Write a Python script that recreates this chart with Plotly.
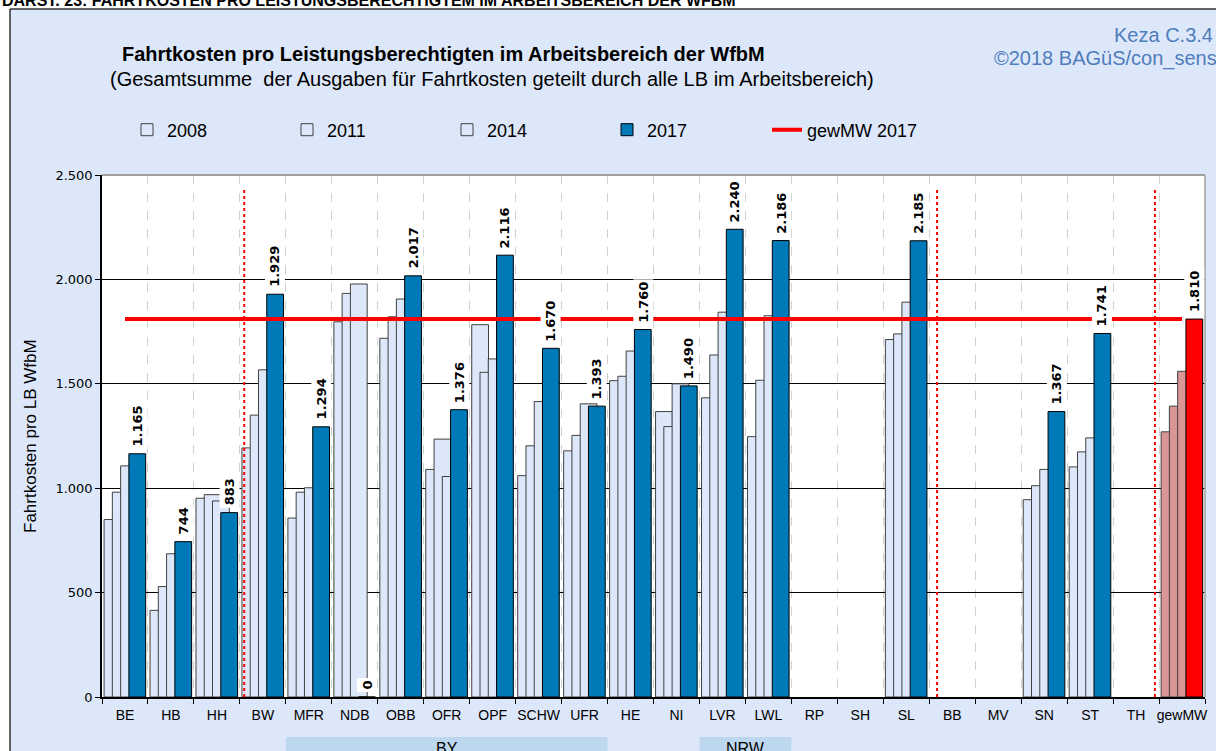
import plotly.graph_objects as go

# ---------------- data ----------------
categories = ["BE", "HB", "HH", "BW", "MFR", "NDB", "OBB", "OFR", "OPF", "SCHW", "UFR", "HE",
              "NI", "LVR", "LWL", "RP", "SH", "SL", "BB", "MV", "SN", "ST", "TH", "gewMW"]
years = ["2008", "2011", "2014", "2017"]
v2008 = [850, 415, 952, 1193, 857, 1797, 1718, 1090, 1783, 1060, 1179, 1515,
         1367, 1433, 1247, None, None, 1712, None, None, 945, 1102, None, 1270]
v2011 = [981, 529, 969, 1350, 981, 1933, 1821, 1235, 1555, 1203, 1253, 1536,
         1295, 1638, 1517, None, None, 1739, None, None, 1012, 1174, None, 1393]
v2014 = [1107, 686, 939, 1567, 1002, 1978, 1906, 1056, 1619, 1415, 1404, 1657,
         1500, 1843, 1826, None, None, 1891, None, None, 1090, 1241, None, 1560]
v2017 = [1165, 744, 883, 1929, 1294, 0, 2017, 1376, 2116, 1670, 1393, 1760,
         1490, 2240, 2186, None, None, 2185, None, None, 1367, 1741, None, 1810]
avg_label = "gewMW 2017"
avg_2017 = v2017[categories.index("gewMW")]
region_labels = ["BY", "NRW"]
region_spans = [("MFR", "UFR"), ("LVR", "LWL")]
separator_after = ["HH", "SL", "TH"]

title = "Fahrtkosten pro Leistungsberechtigten im Arbeitsbereich der WfbM"
subtitle = "(Gesamtsumme  der Ausgaben für Fahrtkosten geteilt durch alle LB im Arbeitsbereich)"
header = "DARST. 23: FAHRTKOSTEN PRO LEISTUNGSBERECHTIGTEM IM ARBEITSBEREICH DER WFBM"
ytitle = "Fahrtkosten pro LB WfbM"
source1 = "Keza C.3.4"
source2 = "©2018 BAGüS/con_sens"

# ---------------- layout constants ----------------
W, H = 1216, 751
L, R, T, B = 102, 11, 175, 54
PW, PH = W - L - R, H - T - B


def px(x):
    return (x - L) / PW


def py(y):
    return (H - B - y) / PH


light = "#DDE7FA"
blue = "#0079B8"
rose = "#D99694"
red = "#FF0000"
bg = "#DDE7FA"

bar_w = 0.365
offsets = [-0.455, -0.275, -0.095, 0.085]
series = [v2008, v2011, v2014, v2017]

fig = go.Figure()
for k, (yr, vals) in enumerate(zip(years, series)):
    if yr == "2017":
        colors = [red if c == "gewMW" else blue for c in categories]
        lc = "#000000"
    else:
        colors = [rose if c == "gewMW" else light for c in categories]
        lc = "#404040"
    fig.add_trace(go.Bar(
        x=categories, y=vals, name=yr,
        offset=offsets[k], width=bar_w,
        marker=dict(color=colors, line=dict(color=lc, width=1)),
        showlegend=True,
    ))

fig.add_trace(go.Scatter(
    x=categories, y=[avg_2017] * len(categories), name=avg_label,
    mode="lines", line=dict(color=red, width=4),
))

# data labels on 2017 bars
annotations = []
for i, (c, v) in enumerate(zip(categories, v2017)):
    if v is None:
        continue
    annotations.append(dict(
        x=i + offsets[3] + bar_w / 2, y=v, xref="x", yref="y",
        text="<b>" + f"{v:,.0f}".replace(",", ".") + "</b>",
        textangle=-90, showarrow=False, yanchor="bottom", xanchor="center",
        yshift=4, bgcolor="white", borderpad=2,
        font=dict(family="DejaVu Sans", size=13, color="black"),
    ))

# titles and texts
annotations += [
    dict(x=px(120), y=py(54), xref="paper", yref="paper", text="<b>" + title + "</b>",
         showarrow=False, xanchor="left", yanchor="middle",
         font=dict(family="Liberation Sans", size=20, color="black")),
    dict(x=px(108), y=py(79), xref="paper", yref="paper", text=subtitle,
         showarrow=False, xanchor="left", yanchor="middle",
         font=dict(family="Liberation Sans", size=20, color="black")),
    dict(x=px(0), y=py(0.5), xref="paper", yref="paper", text="<b>" + header + "</b>",
         showarrow=False, xanchor="left", yanchor="middle",
         font=dict(family="Liberation Sans", size=16, color="black")),
    dict(x=px(1215), y=py(35), xref="paper", yref="paper", text=source1,
         showarrow=False, xanchor="right", yanchor="middle",
         font=dict(family="Liberation Sans", size=20, color="#4F7DBC")),
    dict(x=px(1219), y=py(58), xref="paper", yref="paper", text=source2,
         showarrow=False, xanchor="right", yanchor="middle",
         font=dict(family="Liberation Sans", size=20, color="#4F7DBC")),
    dict(x=px(30), y=py(436), xref="paper", yref="paper", text=ytitle,
         showarrow=False, textangle=-90, xanchor="center", yanchor="middle",
         font=dict(family="Liberation Sans", size=17, color="black")),
]

shapes = [
    # white strips outside the chart frame
    dict(type="rect", xref="paper", yref="paper", x0=px(0), x1=px(W), y0=py(9), y1=py(-5),
         fillcolor="white", line=dict(width=0), layer="below"),
    dict(type="rect", xref="paper", yref="paper", x0=px(-5), x1=px(10), y0=py(H + 5), y1=py(-5),
         fillcolor="white", line=dict(width=0), layer="below"),
    dict(type="line", xref="paper", yref="paper", x0=px(10), x1=px(W + 5), y0=py(9), y1=py(9),
         line=dict(color="#303030", width=1.5)),
    dict(type="line", xref="paper", yref="paper", x0=px(10), x1=px(10), y0=py(9), y1=py(H + 5),
         line=dict(color="#303030", width=1.5)),
    # plot border top / right
    dict(type="line", xref="paper", yref="paper", x0=0, x1=1, y0=1, y1=1,
         line=dict(color="#A0A0A0", width=2)),
    dict(type="line", xref="paper", yref="paper", x0=1, x1=1, y0=0, y1=1,
         line=dict(color="#A0A0A0", width=1.5)),
]

# red dotted separators
sep_pos = {"HH": 0.095, "SL": 0.17, "TH": -0.09}
for c in separator_after:
    xi = categories.index(c) + 0.5 + sep_pos[c]
    shapes.append(dict(type="line", xref="x", yref="y", x0=xi, x1=xi, y0=0, y1=2440,
                       line=dict(color=red, width=2, dash="dot")))

# region boxes below axis
for lab, (a, b) in zip(region_labels, region_spans):
    x0 = categories.index(a) - 0.5
    x1 = categories.index(b) + 0.5
    shapes.append(dict(type="rect", xref="x", yref="paper", x0=x0, x1=x1,
                       y0=py(H + 10), y1=py(737), fillcolor="#BDD7EE",
                       line=dict(width=0), layer="below"))
    annotations.append(dict(x=(x0 + x1) / 2, y=py(748), xref="x", yref="paper", text=lab,
                            showarrow=False, xanchor="center", yanchor="middle",
                            font=dict(family="Liberation Sans", size=16, color="black")))

fig.update_layout(
    width=W, height=H,
    margin=dict(l=L, r=R, t=T, b=B, pad=0, autoexpand=False),
    paper_bgcolor=bg, plot_bgcolor="white",
    barmode="overlay",
    separators=",.",
    font=dict(family="Liberation Sans", color="black"),
    showlegend=True,
    legend=dict(orientation="h", x=px(127), y=py(130), xanchor="left", yanchor="middle",
                entrywidth=115, entrywidthmode="pixels", bgcolor="rgba(0,0,0,0)",
                font=dict(family="Liberation Sans", size=18, color="black"),
                traceorder="normal", itemclick=False),
    annotations=annotations,
    shapes=shapes,
    xaxis=dict(type="category", range=[-0.5, len(categories) - 0.5], automargin=False,
               tickson="boundaries", ticks="outside", ticklen=5, tickcolor="black",
               tickangle=0, ticklabelstandoff=4,
               showline=True, linecolor="black", linewidth=1.5,
               showgrid=True, gridcolor="#D0D0D0", griddash="dash", gridwidth=1,
               tickfont=dict(family="Liberation Sans", size=14, color="black")),
    yaxis=dict(range=[0, 2500], dtick=500, tickformat=",.0f", automargin=False,
               ticks="outside", ticklen=5, tickcolor="black",
               showline=True, linecolor="black", linewidth=1.5,
               showgrid=True, gridcolor="black", gridwidth=1, zeroline=False,
               tickfont=dict(family="DejaVu Sans", size=13, color="black")),
)

fig.write_html(
    "out.html",
    config={"displayModeBar": False},
    post_script="document.body.style.margin='0px';"
                "document.documentElement.style.overflow='hidden';"
                "document.body.style.overflow='hidden';",
)
